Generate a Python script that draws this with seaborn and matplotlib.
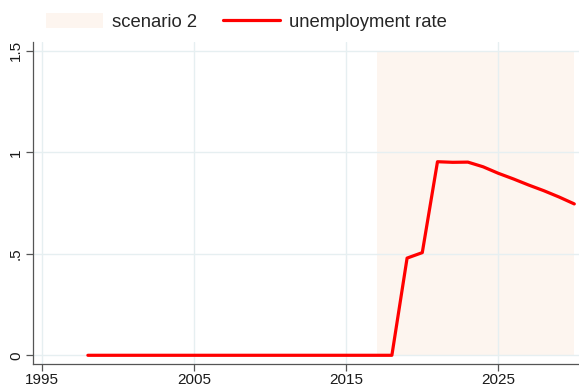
import numpy as np
import pandas as pd
import matplotlib
matplotlib.use("Agg")
import matplotlib.pyplot as plt
import seaborn as sns
from matplotlib.patches import Patch
from matplotlib.lines import Line2D

# ---- data ----
years = list(range(1998, 2031))
unemp = [0.0] * (2018 - 1998 + 1) + [0.479, 0.506, 0.954, 0.951, 0.952, 0.929,
                                     0.897, 0.869, 0.839, 0.811, 0.780, 0.746]
shade_years = [2017, 2030]
shade_top = [1.5, 1.5]
x_ticks = [1995, 2005, 2015, 2025]
y_ticks = [0, 0.5, 1, 1.5]
y_ticklabels = ["0", ".5", "1", "1.5"]
legend_labels = ["scenario 2", "unemployment rate"]

df = pd.DataFrame({"year": years, "rate": unemp})

sns.set_theme(style="white")
plt.rcParams["font.family"] = ["Liberation Sans", "DejaVu Sans"]

shade_color = "#FDF5EF"
grid_color = "#E6EFF1"
line_color = "#FF0000"
axis_color = "#555555"

fig = plt.figure(figsize=(5.79, 3.87), dpi=100)
ax = fig.add_axes([32.7 / 579, (387 - 364.3) / 387, 1 - 32.7 / 579, (364.3 - 42) / 387])
ax.set_facecolor("white")

ax.fill_between(shade_years, 0, shade_top, color=shade_color, linewidth=0, zorder=1)

for xv in x_ticks:
    ax.axvline(xv, color=grid_color, lw=1.0, zorder=2)
for yv in y_ticks:
    ax.axhline(yv, color=grid_color, lw=1.0, zorder=2)

sns.lineplot(data=df, x="year", y="rate", ax=ax, color=line_color, lw=2.3,
             zorder=3, legend=False)

ax.set_xlim(1994.37, 2030.31)
ax.set_ylim(-0.0444, 1.544)
ax.set_xticks(x_ticks)
ax.set_xticklabels([str(t) for t in x_ticks], fontsize=11, color="#1a1a1a")
ax.set_yticks(y_ticks)
ax.set_yticklabels(y_ticklabels, fontsize=11, rotation=90, va="center", color="#1a1a1a")
ax.set_xlabel("")
ax.set_ylabel("")
ax.tick_params(axis="both", direction="out", length=5, width=0.9, color=axis_color,
               left=True, bottom=True, pad=2)
ax.tick_params(axis="x", pad=1.5)

for s in ["top", "right"]:
    ax.spines[s].set_visible(False)
for s in ["left", "bottom"]:
    ax.spines[s].set_color(axis_color)
    ax.spines[s].set_linewidth(0.9)

handles = [Patch(facecolor=shade_color, edgecolor="none"),
           Line2D([0], [0], color=line_color, lw=2.3)]
fig.legend(handles, legend_labels, loc="center", bbox_to_anchor=(0.425, 1 - 22 / 387),
           ncol=2, frameon=False, fontsize=13.3, handlelength=3.1, handleheight=0.9,
           handletextpad=0.48, columnspacing=1.4, borderaxespad=0, borderpad=0)

fig.savefig("out.png", dpi=100)
